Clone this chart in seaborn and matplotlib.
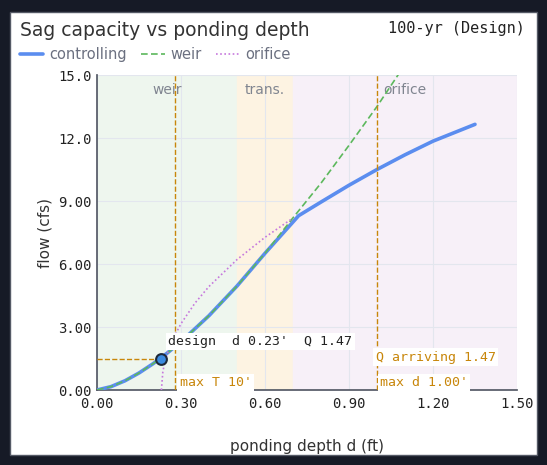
import matplotlib
matplotlib.use("Agg")
import matplotlib.pyplot as plt
import seaborn as sns
import pandas as pd
from matplotlib.patches import Rectangle

sns.set_theme(style="white")
plt.rcParams['font.family'] = ['DejaVu Sans']

# data
weir_d = [0.0, 0.05, 0.1, 0.15, 0.2, 0.25, 0.3, 0.4, 0.5, 0.6, 0.7, 0.8, 0.9, 1.0, 1.1]
weir_q = [0.0, 0.16, 0.44, 0.81, 1.25, 1.75, 2.30, 3.54, 4.95, 6.51, 8.20, 9.85, 11.65, 13.5, 15.5]
orif_d = [0.23, 0.235, 0.24, 0.25, 0.27, 0.30, 0.35, 0.40, 0.50, 0.60, 0.70]
orif_q = [0.0, 0.85, 1.20, 1.69, 2.39, 3.16, 4.14, 4.93, 6.21, 7.27, 8.19]
ctrl_d = [0.0, 0.05, 0.1, 0.15, 0.2, 0.25, 0.3, 0.4, 0.5, 0.6, 0.7, 0.72, 0.8, 0.9, 1.0, 1.1, 1.2, 1.35]
ctrl_q = [0.0, 0.16, 0.44, 0.81, 1.25, 1.75, 2.30, 3.54, 4.95, 6.51, 8.0, 8.3, 8.95, 9.75, 10.5, 11.2, 11.85, 12.65]
design_d, design_q = 0.23, 1.47
maxT_d, maxd_d = 0.28, 1.00
xticks = [0.0, 0.3, 0.6, 0.9, 1.2, 1.5]
yticks = [0.0, 3.0, 6.0, 9.0, 12.0, 15.0]
xlabels = ["0.00", "0.30", "0.60", "0.90", "1.20", "1.50"]
ylabels = ["0.00", "3.00", "6.00", "9.00", "12.0", "15.0"]

fig = plt.figure(figsize=(5.47, 4.65), dpi=100)
fig.patch.set_facecolor("#161a26")
fig.add_artist(Rectangle((10/547, 10/465), 527/547, 443/465, transform=fig.transFigure,
                         facecolor="white", edgecolor="#555a66", lw=1, zorder=0))
ax = fig.add_axes([97/547, 75/465, 420/547, 315/465])
ax.set_facecolor("white")
ax.axvspan(0, 0.5, color="#eef6ee", zorder=0)
ax.axvspan(0.5, 0.7, color="#fdf3e2", zorder=0)
ax.axvspan(0.7, 1.5, color="#f7f0f8", zorder=0)
ax.grid(True, color="#e3e6ee", lw=0.8, zorder=0.5)
ax.set_axisbelow(True)
mono = "DejaVu Sans Mono"
for x, t in [(0.25, "weir"), (0.6, "trans."), (1.1, "orifice")]:
    ax.text(x, 14.3, t, ha="center", va="center", color="#808590", fontsize=10)

sns.lineplot(x=ctrl_d, y=ctrl_q, ax=ax, color="#5b8def", lw=2.6, label="controlling", zorder=3)
sns.lineplot(x=weir_d, y=weir_q, ax=ax, color="#5cb85c", lw=1.2, ls=(0, (4, 2)), label="weir", zorder=4)
sns.lineplot(x=orif_d, y=orif_q, ax=ax, color="#c678dd", lw=1.2, ls=(0, (1, 1.5)), label="orifice", zorder=4)

oc = "#c8860a"
ax.axvline(maxT_d, color=oc, ls="--", lw=1, zorder=5)
ax.axvline(maxd_d, color=oc, ls="--", lw=1, zorder=5)
ax.plot([0, design_d], [design_q, design_q], color=oc, ls="--", lw=1, zorder=5)
ax.scatter([design_d], [design_q], s=60, color="#3b8be0", edgecolor="#1e2a3a", lw=1.5, zorder=7)
box = dict(facecolor="white", edgecolor="none", pad=1.5)
ax.text(0.255, 2.15, "design  d 0.23'  Q 1.47", family=mono, fontsize=9.5, color="#222", bbox=box, zorder=8)
ax.text(0.295, 0.2, "max T 10'", family=mono, fontsize=9.5, color=oc, bbox=box, zorder=8)
ax.text(0.995, 1.4, "Q arriving 1.47", family=mono, fontsize=9.5, color=oc, bbox=box, zorder=8)
ax.text(1.01, 0.2, "max d 1.00'", family=mono, fontsize=9.5, color=oc, bbox=box, zorder=8)

ax.set_xlim(0, 1.5)
ax.set_ylim(0, 15)
ax.set_xticks(xticks, xlabels, family=mono, fontsize=10, color="#222")
ax.set_yticks(yticks, ylabels, family=mono, fontsize=10, color="#222")
ax.tick_params(axis="x", length=0, pad=5)
ax.tick_params(axis="y", length=0, pad=4)
for s in ["top", "right"]:
    ax.spines[s].set_visible(False)
for s in ["left", "bottom"]:
    ax.spines[s].set_color("#555a66")
ax.set_xlabel("ponding depth d (ft)", fontsize=11, color="#333", labelpad=20)
ax.set_ylabel("flow (cfs)", fontsize=11, color="#333")
ax.legend(loc="lower left", bbox_to_anchor=(-0.215, 1.0), ncol=3, frameon=False, fontsize=10.5,
          handlelength=1.6, handletextpad=0.4, columnspacing=1.0, labelcolor="#6b7080")
fig.text(20/547, 1 - 31/465, "Sag capacity vs ponding depth", fontsize=13.5, color="#333", va="center")
fig.text(525/547, 1 - 29/465, "100-yr (Design)", family=mono, fontsize=11, color="#222", va="center", ha="right")
fig.savefig("out.png", dpi=100)
